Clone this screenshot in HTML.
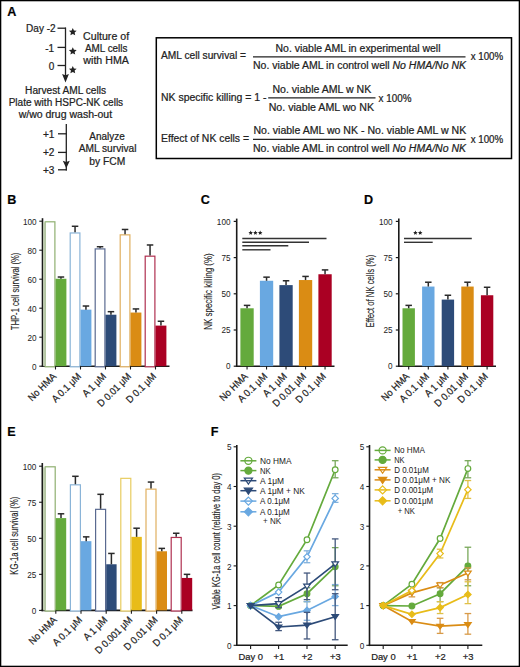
<!DOCTYPE html><html><head><meta charset="utf-8"><style>html,body{margin:0;padding:0;background:#fff;width:520px;height:667px;overflow:hidden;}svg{display:block;font-family:"Liberation Sans",sans-serif;}text{stroke:#222;stroke-width:0.22px;}text.l{stroke:none;}text.t{stroke-width:0.12px;}</style></head><body>
<svg width="520" height="667" viewBox="0 0 520 667">
<rect x="0.00" y="0.00" width="520.00" height="667.00" fill="#fff" stroke="none" stroke-width="1"/>
<rect x="0.60" y="0.60" width="518.80" height="665.80" fill="none" stroke="#000" stroke-width="1.4"/>
<text x="7.3" y="15.8" font-size="12.6" text-anchor="start" font-weight="bold" font-style="normal" fill="#000" >A</text>
<text x="55.6" y="31.8" font-size="10" text-anchor="end" font-weight="normal" font-style="normal" fill="#222" textLength="29.5" lengthAdjust="spacingAndGlyphs" >Day -2</text>
<text x="54.2" y="51.7" font-size="10" text-anchor="end" font-weight="normal" font-style="normal" fill="#222" >-1</text>
<text x="54.2" y="69.6" font-size="10" text-anchor="end" font-weight="normal" font-style="normal" fill="#222" >0</text>
<line x1="57.50" y1="28.20" x2="66.00" y2="28.20" stroke="#222" stroke-width="1.3" />
<line x1="57.50" y1="47.40" x2="66.00" y2="47.40" stroke="#222" stroke-width="1.3" />
<line x1="57.50" y1="65.50" x2="66.00" y2="65.50" stroke="#222" stroke-width="1.3" />
<line x1="65.50" y1="27.60" x2="65.50" y2="77.00" stroke="#222" stroke-width="1.3" />
<polygon points="62.1,74.0 65.5,75.2 68.9,74.0 65.5,82.6" fill="#222"/>
<polygon points="72.80,27.90 73.93,30.44 76.70,30.73 74.63,32.60 75.21,35.32 72.80,33.93 70.39,35.32 70.97,32.60 68.90,30.73 71.67,30.44" fill="#222"/>
<polygon points="72.80,47.20 73.93,49.74 76.70,50.03 74.63,51.90 75.21,54.62 72.80,53.23 70.39,54.62 70.97,51.90 68.90,50.03 71.67,49.74" fill="#222"/>
<polygon points="72.80,65.90 73.93,68.44 76.70,68.73 74.63,70.60 75.21,73.32 72.80,71.93 70.39,73.32 70.97,70.60 68.90,68.73 71.67,68.44" fill="#222"/>
<text x="106.1" y="39.9" font-size="10" text-anchor="middle" font-weight="normal" font-style="normal" fill="#222" textLength="46" lengthAdjust="spacingAndGlyphs" >Culture of</text>
<text x="106.2" y="52.2" font-size="10" text-anchor="middle" font-weight="normal" font-style="normal" fill="#222" textLength="42.5" lengthAdjust="spacingAndGlyphs" >AML cells</text>
<text x="106.1" y="64.0" font-size="10" text-anchor="middle" font-weight="normal" font-style="normal" fill="#222" textLength="45.5" lengthAdjust="spacingAndGlyphs" >with HMA</text>
<text x="65.6" y="93.8" font-size="10" text-anchor="middle" font-weight="normal" font-style="normal" fill="#222" textLength="81" lengthAdjust="spacingAndGlyphs" >Harvest AML cells</text>
<text x="65.9" y="105.8" font-size="10" text-anchor="middle" font-weight="normal" font-style="normal" fill="#222" textLength="114.5" lengthAdjust="spacingAndGlyphs" >Plate with HSPC-NK cells</text>
<text x="65.4" y="117.5" font-size="10" text-anchor="middle" font-weight="normal" font-style="normal" fill="#222" textLength="93.5" lengthAdjust="spacingAndGlyphs" >w/wo drug wash-out</text>
<line x1="66.30" y1="124.00" x2="66.30" y2="170.40" stroke="#222" stroke-width="1.3" />
<polygon points="62.8,160.8 66.3,161.9 69.8,160.8 66.3,168.2" fill="#222"/>
<text x="54.4" y="138.0" font-size="10" text-anchor="end" font-weight="normal" font-style="normal" fill="#222" textLength="11.5" lengthAdjust="spacingAndGlyphs" >+1</text>
<text x="54.4" y="156.3" font-size="10" text-anchor="end" font-weight="normal" font-style="normal" fill="#222" textLength="11.5" lengthAdjust="spacingAndGlyphs" >+2</text>
<text x="54.4" y="173.7" font-size="10" text-anchor="end" font-weight="normal" font-style="normal" fill="#222" textLength="11.5" lengthAdjust="spacingAndGlyphs" >+3</text>
<line x1="58.00" y1="133.80" x2="66.90" y2="133.80" stroke="#222" stroke-width="1.3" />
<line x1="58.00" y1="152.40" x2="66.90" y2="152.40" stroke="#222" stroke-width="1.3" />
<line x1="58.00" y1="169.80" x2="66.90" y2="169.80" stroke="#222" stroke-width="1.3" />
<text x="107.1" y="140.2" font-size="10" text-anchor="middle" font-weight="normal" font-style="normal" fill="#222" textLength="35.5" lengthAdjust="spacingAndGlyphs" >Analyze</text>
<text x="107.6" y="152.4" font-size="10" text-anchor="middle" font-weight="normal" font-style="normal" fill="#222" textLength="57.8" lengthAdjust="spacingAndGlyphs" >AML survival</text>
<text x="107.3" y="164.6" font-size="10" text-anchor="middle" font-weight="normal" font-style="normal" fill="#222" textLength="36" lengthAdjust="spacingAndGlyphs" >by FCM</text>
<rect x="156.30" y="37.80" width="355.20" height="120.70" fill="none" stroke="#000" stroke-width="1.5"/>
<text x="161" y="58.8" font-size="10" text-anchor="start" font-weight="normal" font-style="normal" fill="#222" textLength="85" lengthAdjust="spacingAndGlyphs" >AML cell survival =</text>
<line x1="253.00" y1="56.90" x2="465.50" y2="56.90" stroke="#222" stroke-width="1.3" />
<text x="275.5" y="51.5" font-size="10" text-anchor="start" font-weight="normal" font-style="normal" fill="#222" textLength="165" lengthAdjust="spacingAndGlyphs" >No. viable AML in experimental well</text>
<text x="253" y="69.0" font-size="10" fill="#222" textLength="213" lengthAdjust="spacingAndGlyphs">No. viable AML in control well <tspan font-style="italic">No HMA/No NK</tspan></text>
<text x="470.7" y="60.2" font-size="10" text-anchor="start" font-weight="normal" font-style="normal" fill="#222" textLength="32.5" lengthAdjust="spacingAndGlyphs" >x 100%</text>
<text x="161" y="101" font-size="10" text-anchor="start" font-weight="normal" font-style="normal" fill="#222" textLength="105.5" lengthAdjust="spacingAndGlyphs" >NK specific killing = 1 -</text>
<line x1="268.20" y1="97.90" x2="375.50" y2="97.90" stroke="#222" stroke-width="1.3" />
<text x="272.4" y="92.6" font-size="10" text-anchor="start" font-weight="normal" font-style="normal" fill="#222" textLength="98.8" lengthAdjust="spacingAndGlyphs" >No. viable AML w NK</text>
<text x="268.7" y="111.1" font-size="10" text-anchor="start" font-weight="normal" font-style="normal" fill="#222" textLength="105.3" lengthAdjust="spacingAndGlyphs" >No. viable AML wo NK</text>
<text x="378.6" y="101.6" font-size="10" text-anchor="start" font-weight="normal" font-style="normal" fill="#222" textLength="32.8" lengthAdjust="spacingAndGlyphs" >x 100%</text>
<text x="161" y="142" font-size="10" text-anchor="start" font-weight="normal" font-style="normal" fill="#222" textLength="88" lengthAdjust="spacingAndGlyphs" >Effect of NK cells =</text>
<line x1="253.00" y1="139.30" x2="465.50" y2="139.30" stroke="#222" stroke-width="1.3" />
<text x="253.4" y="134.0" font-size="10" text-anchor="start" font-weight="normal" font-style="normal" fill="#222" textLength="212.8" lengthAdjust="spacingAndGlyphs" >No. viable AML wo NK - No. viable AML w NK</text>
<text x="253" y="151.5" font-size="10" fill="#222" textLength="213" lengthAdjust="spacingAndGlyphs">No. viable AML in control well <tspan font-style="italic">No HMA/No NK</tspan></text>
<text x="470.7" y="142.9" font-size="10" text-anchor="start" font-weight="normal" font-style="normal" fill="#222" textLength="32.5" lengthAdjust="spacingAndGlyphs" >x 100%</text>
<text x="7.3" y="203.8" font-size="12.6" text-anchor="start" font-weight="bold" font-style="normal" fill="#000" >B</text>
<line x1="42.50" y1="218.20" x2="42.50" y2="367.00" stroke="#1a1a1a" stroke-width="1.6" />
<line x1="41.70" y1="366.20" x2="169.50" y2="366.20" stroke="#1a1a1a" stroke-width="1.6" />
<line x1="39.30" y1="366.20" x2="42.50" y2="366.20" stroke="#1a1a1a" stroke-width="1.1" />
<text x="36.6" y="369.8" font-size="9.4" text-anchor="end" font-weight="normal" font-style="normal" fill="#222" textLength="4.55" lengthAdjust="spacingAndGlyphs" class="l">0</text>
<line x1="39.30" y1="337.20" x2="42.50" y2="337.20" stroke="#1a1a1a" stroke-width="1.1" />
<text x="36.6" y="340.8" font-size="9.4" text-anchor="end" font-weight="normal" font-style="normal" fill="#222" textLength="9.1" lengthAdjust="spacingAndGlyphs" class="l">20</text>
<line x1="39.30" y1="308.20" x2="42.50" y2="308.20" stroke="#1a1a1a" stroke-width="1.1" />
<text x="36.6" y="311.8" font-size="9.4" text-anchor="end" font-weight="normal" font-style="normal" fill="#222" textLength="9.1" lengthAdjust="spacingAndGlyphs" class="l">40</text>
<line x1="39.30" y1="279.20" x2="42.50" y2="279.20" stroke="#1a1a1a" stroke-width="1.1" />
<text x="36.6" y="282.8" font-size="9.4" text-anchor="end" font-weight="normal" font-style="normal" fill="#222" textLength="9.1" lengthAdjust="spacingAndGlyphs" class="l">60</text>
<line x1="39.30" y1="250.20" x2="42.50" y2="250.20" stroke="#1a1a1a" stroke-width="1.1" />
<text x="36.6" y="253.79999999999998" font-size="9.4" text-anchor="end" font-weight="normal" font-style="normal" fill="#222" textLength="9.1" lengthAdjust="spacingAndGlyphs" class="l">80</text>
<line x1="39.30" y1="221.20" x2="42.50" y2="221.20" stroke="#1a1a1a" stroke-width="1.1" />
<text x="36.6" y="224.79999999999998" font-size="9.4" text-anchor="end" font-weight="normal" font-style="normal" fill="#222" textLength="13.65" lengthAdjust="spacingAndGlyphs" class="l">100</text>
<text class="t" transform="translate(18.50,291.40) rotate(-90)" x="0" y="0" font-size="10.6" text-anchor="middle" fill="#222" textLength="77.5" lengthAdjust="spacingAndGlyphs">THP-1 cell survival (%)</text>
<rect x="45.20" y="221.80" width="9.70" height="145.00" fill="#fff" stroke="#8fb070" stroke-width="1.2"/>
<rect x="43.20" y="222.40" width="2.50" height="143.80" fill="#b8c8a8" stroke="none" stroke-width="1"/>
<rect x="55.50" y="278.76" width="10.90" height="87.44" fill="#64aa3c" stroke="none" stroke-width="1"/>
<line x1="60.95" y1="278.76" x2="60.95" y2="277.02" stroke="#2a2a2a" stroke-width="1.5" />
<line x1="57.70" y1="277.02" x2="64.20" y2="277.02" stroke="#2a2a2a" stroke-width="1.5" />
<line x1="55.50" y1="366.20" x2="55.50" y2="369.50" stroke="#1a1a1a" stroke-width="1.1" />
<text transform="translate(56.80,377.00) rotate(-45)" x="0" y="0" font-size="10" text-anchor="end" fill="#222" textLength="35.14" lengthAdjust="spacingAndGlyphs">No HMA</text>
<rect x="70.20" y="232.97" width="9.70" height="133.83" fill="#fff" stroke="#8ab4d8" stroke-width="1.2"/>
<line x1="75.05" y1="232.37" x2="75.05" y2="226.28" stroke="#2a2a2a" stroke-width="1.5" />
<line x1="71.80" y1="226.28" x2="78.30" y2="226.28" stroke="#2a2a2a" stroke-width="1.5" />
<rect x="80.50" y="309.65" width="10.90" height="56.55" fill="#69a8e1" stroke="none" stroke-width="1"/>
<line x1="85.95" y1="309.65" x2="85.95" y2="306.02" stroke="#2a2a2a" stroke-width="1.5" />
<line x1="82.70" y1="306.02" x2="89.20" y2="306.02" stroke="#2a2a2a" stroke-width="1.5" />
<line x1="80.50" y1="366.20" x2="80.50" y2="369.50" stroke="#1a1a1a" stroke-width="1.1" />
<text transform="translate(81.80,377.00) rotate(-45)" x="0" y="0" font-size="10" text-anchor="end" fill="#222" textLength="36.89" lengthAdjust="spacingAndGlyphs">A 0.1 μM</text>
<rect x="95.20" y="248.91" width="9.70" height="117.88" fill="#fff" stroke="#5a6a90" stroke-width="1.2"/>
<line x1="100.05" y1="248.31" x2="100.05" y2="246.72" stroke="#2a2a2a" stroke-width="1.5" />
<line x1="96.80" y1="246.72" x2="103.30" y2="246.72" stroke="#2a2a2a" stroke-width="1.5" />
<rect x="105.50" y="314.72" width="10.90" height="51.48" fill="#2d4b78" stroke="none" stroke-width="1"/>
<line x1="110.95" y1="314.72" x2="110.95" y2="311.68" stroke="#2a2a2a" stroke-width="1.5" />
<line x1="107.70" y1="311.68" x2="114.20" y2="311.68" stroke="#2a2a2a" stroke-width="1.5" />
<line x1="105.50" y1="366.20" x2="105.50" y2="369.50" stroke="#1a1a1a" stroke-width="1.1" />
<text transform="translate(106.80,377.00) rotate(-45)" x="0" y="0" font-size="10" text-anchor="end" fill="#222" textLength="29.14" lengthAdjust="spacingAndGlyphs">A 1 μM</text>
<rect x="120.20" y="234.85" width="9.70" height="131.95" fill="#fff" stroke="#e0b060" stroke-width="1.2"/>
<line x1="125.05" y1="234.25" x2="125.05" y2="229.47" stroke="#2a2a2a" stroke-width="1.5" />
<line x1="121.80" y1="229.47" x2="128.30" y2="229.47" stroke="#2a2a2a" stroke-width="1.5" />
<rect x="130.50" y="312.55" width="10.90" height="53.65" fill="#da8c14" stroke="none" stroke-width="1"/>
<line x1="135.95" y1="312.55" x2="135.95" y2="308.93" stroke="#2a2a2a" stroke-width="1.5" />
<line x1="132.70" y1="308.93" x2="139.20" y2="308.93" stroke="#2a2a2a" stroke-width="1.5" />
<line x1="130.50" y1="366.20" x2="130.50" y2="369.50" stroke="#1a1a1a" stroke-width="1.1" />
<text transform="translate(131.80,377.00) rotate(-45)" x="0" y="0" font-size="10" text-anchor="end" fill="#222" textLength="43.09" lengthAdjust="spacingAndGlyphs">D 0.01 μM</text>
<rect x="145.20" y="256.17" width="9.70" height="110.63" fill="#fff" stroke="#b03050" stroke-width="1.2"/>
<line x1="150.05" y1="255.56" x2="150.05" y2="244.98" stroke="#2a2a2a" stroke-width="1.5" />
<line x1="146.80" y1="244.98" x2="153.30" y2="244.98" stroke="#2a2a2a" stroke-width="1.5" />
<rect x="155.50" y="325.60" width="10.90" height="40.60" fill="#aa0023" stroke="none" stroke-width="1"/>
<line x1="160.95" y1="325.60" x2="160.95" y2="321.25" stroke="#2a2a2a" stroke-width="1.5" />
<line x1="157.70" y1="321.25" x2="164.20" y2="321.25" stroke="#2a2a2a" stroke-width="1.5" />
<line x1="155.50" y1="366.20" x2="155.50" y2="369.50" stroke="#1a1a1a" stroke-width="1.1" />
<text transform="translate(156.80,377.00) rotate(-45)" x="0" y="0" font-size="10" text-anchor="end" fill="#222" textLength="37.92" lengthAdjust="spacingAndGlyphs">D 0.1 μM</text>
<text x="200.8" y="203.8" font-size="12.6" text-anchor="start" font-weight="bold" font-style="normal" fill="#000" >C</text>
<line x1="236.70" y1="218.60" x2="236.70" y2="367.00" stroke="#1a1a1a" stroke-width="1.6" />
<line x1="235.90" y1="366.20" x2="334.50" y2="366.20" stroke="#1a1a1a" stroke-width="1.6" />
<line x1="233.70" y1="366.20" x2="236.70" y2="366.20" stroke="#1a1a1a" stroke-width="1.2" />
<text x="230.5" y="369.4" font-size="9.4" text-anchor="end" font-weight="normal" font-style="normal" fill="#222" textLength="4.55" lengthAdjust="spacingAndGlyphs" class="l">0</text>
<line x1="233.70" y1="330.00" x2="236.70" y2="330.00" stroke="#1a1a1a" stroke-width="1.2" />
<text x="230.5" y="333.2" font-size="9.4" text-anchor="end" font-weight="normal" font-style="normal" fill="#222" textLength="9.1" lengthAdjust="spacingAndGlyphs" class="l">25</text>
<line x1="233.70" y1="293.80" x2="236.70" y2="293.80" stroke="#1a1a1a" stroke-width="1.2" />
<text x="230.5" y="297.0" font-size="9.4" text-anchor="end" font-weight="normal" font-style="normal" fill="#222" textLength="9.1" lengthAdjust="spacingAndGlyphs" class="l">50</text>
<line x1="233.70" y1="257.60" x2="236.70" y2="257.60" stroke="#1a1a1a" stroke-width="1.2" />
<text x="230.5" y="260.8" font-size="9.4" text-anchor="end" font-weight="normal" font-style="normal" fill="#222" textLength="9.1" lengthAdjust="spacingAndGlyphs" class="l">75</text>
<line x1="233.70" y1="221.40" x2="236.70" y2="221.40" stroke="#1a1a1a" stroke-width="1.2" />
<text x="230.5" y="224.6" font-size="9.4" text-anchor="end" font-weight="normal" font-style="normal" fill="#222" textLength="13.65" lengthAdjust="spacingAndGlyphs" class="l">100</text>
<text class="t" transform="translate(211.70,291.50) rotate(-90)" x="0" y="0" font-size="10.6" text-anchor="middle" fill="#222" textLength="76.5" lengthAdjust="spacingAndGlyphs">NK specific killing (%)</text>
<rect x="240.40" y="308.28" width="13.30" height="57.92" fill="#64aa3c" stroke="none" stroke-width="1"/>
<line x1="247.05" y1="308.28" x2="247.05" y2="305.38" stroke="#2a2a2a" stroke-width="1.5" />
<line x1="243.80" y1="305.38" x2="250.30" y2="305.38" stroke="#2a2a2a" stroke-width="1.5" />
<line x1="247.05" y1="366.20" x2="247.05" y2="369.50" stroke="#1a1a1a" stroke-width="1.1" />
<text transform="translate(248.35,377.00) rotate(-45)" x="0" y="0" font-size="10" text-anchor="end" fill="#222" textLength="35.14" lengthAdjust="spacingAndGlyphs">No HMA</text>
<rect x="259.90" y="280.77" width="13.30" height="85.43" fill="#69a8e1" stroke="none" stroke-width="1"/>
<line x1="266.55" y1="280.77" x2="266.55" y2="277.15" stroke="#2a2a2a" stroke-width="1.5" />
<line x1="263.30" y1="277.15" x2="269.80" y2="277.15" stroke="#2a2a2a" stroke-width="1.5" />
<line x1="266.55" y1="366.20" x2="266.55" y2="369.50" stroke="#1a1a1a" stroke-width="1.1" />
<text transform="translate(267.85,377.00) rotate(-45)" x="0" y="0" font-size="10" text-anchor="end" fill="#222" textLength="36.89" lengthAdjust="spacingAndGlyphs">A 0.1 μM</text>
<rect x="279.40" y="285.11" width="13.30" height="81.09" fill="#2d4b78" stroke="none" stroke-width="1"/>
<line x1="286.05" y1="285.11" x2="286.05" y2="280.77" stroke="#2a2a2a" stroke-width="1.5" />
<line x1="282.80" y1="280.77" x2="289.30" y2="280.77" stroke="#2a2a2a" stroke-width="1.5" />
<line x1="286.05" y1="366.20" x2="286.05" y2="369.50" stroke="#1a1a1a" stroke-width="1.1" />
<text transform="translate(287.35,377.00) rotate(-45)" x="0" y="0" font-size="10" text-anchor="end" fill="#222" textLength="29.14" lengthAdjust="spacingAndGlyphs">A 1 μM</text>
<rect x="298.90" y="280.04" width="13.30" height="86.16" fill="#da8c14" stroke="none" stroke-width="1"/>
<line x1="305.55" y1="280.04" x2="305.55" y2="276.42" stroke="#2a2a2a" stroke-width="1.5" />
<line x1="302.30" y1="276.42" x2="308.80" y2="276.42" stroke="#2a2a2a" stroke-width="1.5" />
<line x1="305.55" y1="366.20" x2="305.55" y2="369.50" stroke="#1a1a1a" stroke-width="1.1" />
<text transform="translate(306.85,377.00) rotate(-45)" x="0" y="0" font-size="10" text-anchor="end" fill="#222" textLength="43.09" lengthAdjust="spacingAndGlyphs">D 0.01 μM</text>
<rect x="318.40" y="274.25" width="13.30" height="91.95" fill="#aa0023" stroke="none" stroke-width="1"/>
<line x1="325.05" y1="274.25" x2="325.05" y2="269.91" stroke="#2a2a2a" stroke-width="1.5" />
<line x1="321.80" y1="269.91" x2="328.30" y2="269.91" stroke="#2a2a2a" stroke-width="1.5" />
<line x1="325.05" y1="366.20" x2="325.05" y2="369.50" stroke="#1a1a1a" stroke-width="1.1" />
<text transform="translate(326.35,377.00) rotate(-45)" x="0" y="0" font-size="10" text-anchor="end" fill="#222" textLength="37.92" lengthAdjust="spacingAndGlyphs">D 0.1 μM</text>
<line x1="242.30" y1="238.50" x2="326.50" y2="238.50" stroke="#333" stroke-width="1.4" />
<line x1="242.30" y1="242.30" x2="309.00" y2="242.30" stroke="#333" stroke-width="1.4" />
<line x1="242.30" y1="245.80" x2="288.30" y2="245.80" stroke="#333" stroke-width="1.4" />
<line x1="242.30" y1="249.80" x2="270.50" y2="249.80" stroke="#333" stroke-width="1.4" />
<polygon points="250.70,230.50 251.36,231.99 252.98,232.16 251.77,233.25 252.11,234.84 250.70,234.03 249.29,234.84 249.63,233.25 248.42,232.16 250.04,231.99" fill="#222"/>
<polygon points="255.40,230.50 256.06,231.99 257.68,232.16 256.47,233.25 256.81,234.84 255.40,234.03 253.99,234.84 254.33,233.25 253.12,232.16 254.74,231.99" fill="#222"/>
<polygon points="260.20,230.50 260.86,231.99 262.48,232.16 261.27,233.25 261.61,234.84 260.20,234.03 258.79,234.84 259.13,233.25 257.92,232.16 259.54,231.99" fill="#222"/>
<text x="364.0" y="203.8" font-size="12.6" text-anchor="start" font-weight="bold" font-style="normal" fill="#000" >D</text>
<line x1="398.80" y1="218.60" x2="398.80" y2="367.00" stroke="#1a1a1a" stroke-width="1.6" />
<line x1="398.00" y1="366.20" x2="496.00" y2="366.20" stroke="#1a1a1a" stroke-width="1.6" />
<line x1="395.80" y1="366.20" x2="398.80" y2="366.20" stroke="#1a1a1a" stroke-width="1.2" />
<text x="392.6" y="369.4" font-size="9.4" text-anchor="end" font-weight="normal" font-style="normal" fill="#222" textLength="4.55" lengthAdjust="spacingAndGlyphs" class="l">0</text>
<line x1="395.80" y1="330.00" x2="398.80" y2="330.00" stroke="#1a1a1a" stroke-width="1.2" />
<text x="392.6" y="333.2" font-size="9.4" text-anchor="end" font-weight="normal" font-style="normal" fill="#222" textLength="9.1" lengthAdjust="spacingAndGlyphs" class="l">25</text>
<line x1="395.80" y1="293.80" x2="398.80" y2="293.80" stroke="#1a1a1a" stroke-width="1.2" />
<text x="392.6" y="297.0" font-size="9.4" text-anchor="end" font-weight="normal" font-style="normal" fill="#222" textLength="9.1" lengthAdjust="spacingAndGlyphs" class="l">50</text>
<line x1="395.80" y1="257.60" x2="398.80" y2="257.60" stroke="#1a1a1a" stroke-width="1.2" />
<text x="392.6" y="260.8" font-size="9.4" text-anchor="end" font-weight="normal" font-style="normal" fill="#222" textLength="9.1" lengthAdjust="spacingAndGlyphs" class="l">75</text>
<line x1="395.80" y1="221.40" x2="398.80" y2="221.40" stroke="#1a1a1a" stroke-width="1.2" />
<text x="392.6" y="224.6" font-size="9.4" text-anchor="end" font-weight="normal" font-style="normal" fill="#222" textLength="13.65" lengthAdjust="spacingAndGlyphs" class="l">100</text>
<text class="t" transform="translate(374.20,291.10) rotate(-90)" x="0" y="0" font-size="10.6" text-anchor="middle" fill="#222" textLength="72.8" lengthAdjust="spacingAndGlyphs">Effect of NK cells (%)</text>
<rect x="402.50" y="308.28" width="12.40" height="57.92" fill="#64aa3c" stroke="none" stroke-width="1"/>
<line x1="408.70" y1="308.28" x2="408.70" y2="305.38" stroke="#2a2a2a" stroke-width="1.5" />
<line x1="405.45" y1="305.38" x2="411.95" y2="305.38" stroke="#2a2a2a" stroke-width="1.5" />
<line x1="408.70" y1="366.20" x2="408.70" y2="369.50" stroke="#1a1a1a" stroke-width="1.1" />
<text transform="translate(410.00,377.00) rotate(-45)" x="0" y="0" font-size="10" text-anchor="end" fill="#222" textLength="35.14" lengthAdjust="spacingAndGlyphs">No HMA</text>
<rect x="422.10" y="286.56" width="12.40" height="79.64" fill="#69a8e1" stroke="none" stroke-width="1"/>
<line x1="428.30" y1="286.56" x2="428.30" y2="282.22" stroke="#2a2a2a" stroke-width="1.5" />
<line x1="425.05" y1="282.22" x2="431.55" y2="282.22" stroke="#2a2a2a" stroke-width="1.5" />
<line x1="428.30" y1="366.20" x2="428.30" y2="369.50" stroke="#1a1a1a" stroke-width="1.1" />
<text transform="translate(429.60,377.00) rotate(-45)" x="0" y="0" font-size="10" text-anchor="end" fill="#222" textLength="36.89" lengthAdjust="spacingAndGlyphs">A 0.1 μM</text>
<rect x="441.70" y="299.59" width="12.40" height="66.61" fill="#2d4b78" stroke="none" stroke-width="1"/>
<line x1="447.90" y1="299.59" x2="447.90" y2="295.25" stroke="#2a2a2a" stroke-width="1.5" />
<line x1="444.65" y1="295.25" x2="451.15" y2="295.25" stroke="#2a2a2a" stroke-width="1.5" />
<line x1="447.90" y1="366.20" x2="447.90" y2="369.50" stroke="#1a1a1a" stroke-width="1.1" />
<text transform="translate(449.20,377.00) rotate(-45)" x="0" y="0" font-size="10" text-anchor="end" fill="#222" textLength="29.14" lengthAdjust="spacingAndGlyphs">A 1 μM</text>
<rect x="461.30" y="286.56" width="12.40" height="79.64" fill="#da8c14" stroke="none" stroke-width="1"/>
<line x1="467.50" y1="286.56" x2="467.50" y2="282.22" stroke="#2a2a2a" stroke-width="1.5" />
<line x1="464.25" y1="282.22" x2="470.75" y2="282.22" stroke="#2a2a2a" stroke-width="1.5" />
<line x1="467.50" y1="366.20" x2="467.50" y2="369.50" stroke="#1a1a1a" stroke-width="1.1" />
<text transform="translate(468.80,377.00) rotate(-45)" x="0" y="0" font-size="10" text-anchor="end" fill="#222" textLength="43.09" lengthAdjust="spacingAndGlyphs">D 0.01 μM</text>
<rect x="480.90" y="295.25" width="12.40" height="70.95" fill="#aa0023" stroke="none" stroke-width="1"/>
<line x1="487.10" y1="295.25" x2="487.10" y2="287.28" stroke="#2a2a2a" stroke-width="1.5" />
<line x1="483.85" y1="287.28" x2="490.35" y2="287.28" stroke="#2a2a2a" stroke-width="1.5" />
<line x1="487.10" y1="366.20" x2="487.10" y2="369.50" stroke="#1a1a1a" stroke-width="1.1" />
<text transform="translate(488.40,377.00) rotate(-45)" x="0" y="0" font-size="10" text-anchor="end" fill="#222" textLength="37.92" lengthAdjust="spacingAndGlyphs">D 0.1 μM</text>
<line x1="404.00" y1="238.50" x2="471.80" y2="238.50" stroke="#333" stroke-width="1.4" />
<line x1="404.00" y1="242.30" x2="432.70" y2="242.30" stroke="#333" stroke-width="1.4" />
<polygon points="415.40,230.50 416.06,231.99 417.68,232.16 416.47,233.25 416.81,234.84 415.40,234.03 413.99,234.84 414.33,233.25 413.12,232.16 414.74,231.99" fill="#222"/>
<polygon points="420.20,230.50 420.86,231.99 422.48,232.16 421.27,233.25 421.61,234.84 420.20,234.03 418.79,234.84 419.13,233.25 417.92,232.16 419.54,231.99" fill="#222"/>
<text x="7.3" y="436" font-size="12.6" text-anchor="start" font-weight="bold" font-style="normal" fill="#000" >E</text>
<line x1="42.30" y1="463.00" x2="42.30" y2="611.20" stroke="#1a1a1a" stroke-width="1.6" />
<line x1="41.50" y1="610.40" x2="192.50" y2="610.40" stroke="#1a1a1a" stroke-width="1.6" />
<line x1="39.10" y1="610.40" x2="42.30" y2="610.40" stroke="#1a1a1a" stroke-width="1.1" />
<text x="36.4" y="614.0" font-size="9.4" text-anchor="end" font-weight="normal" font-style="normal" fill="#222" textLength="4.55" lengthAdjust="spacingAndGlyphs" class="l">0</text>
<line x1="39.10" y1="574.35" x2="42.30" y2="574.35" stroke="#1a1a1a" stroke-width="1.1" />
<text x="36.4" y="577.95" font-size="9.4" text-anchor="end" font-weight="normal" font-style="normal" fill="#222" textLength="9.1" lengthAdjust="spacingAndGlyphs" class="l">25</text>
<line x1="39.10" y1="538.30" x2="42.30" y2="538.30" stroke="#1a1a1a" stroke-width="1.1" />
<text x="36.4" y="541.9" font-size="9.4" text-anchor="end" font-weight="normal" font-style="normal" fill="#222" textLength="9.1" lengthAdjust="spacingAndGlyphs" class="l">50</text>
<line x1="39.10" y1="502.25" x2="42.30" y2="502.25" stroke="#1a1a1a" stroke-width="1.1" />
<text x="36.4" y="505.85" font-size="9.4" text-anchor="end" font-weight="normal" font-style="normal" fill="#222" textLength="9.1" lengthAdjust="spacingAndGlyphs" class="l">75</text>
<line x1="39.10" y1="466.20" x2="42.30" y2="466.20" stroke="#1a1a1a" stroke-width="1.1" />
<text x="36.4" y="469.8" font-size="9.4" text-anchor="end" font-weight="normal" font-style="normal" fill="#222" textLength="13.65" lengthAdjust="spacingAndGlyphs" class="l">100</text>
<text class="t" transform="translate(18.20,535.70) rotate(-90)" x="0" y="0" font-size="10.6" text-anchor="middle" fill="#222" textLength="78" lengthAdjust="spacingAndGlyphs">KG-1a cell survival (%)</text>
<rect x="45.20" y="466.80" width="10.00" height="144.20" fill="#fff" stroke="#8fb070" stroke-width="1.2"/>
<rect x="43.10" y="467.40" width="2.60" height="143.00" fill="#b8c8a8" stroke="none" stroke-width="1"/>
<rect x="55.80" y="518.11" width="10.40" height="92.29" fill="#64aa3c" stroke="none" stroke-width="1"/>
<line x1="61.00" y1="518.11" x2="61.00" y2="513.79" stroke="#2a2a2a" stroke-width="1.5" />
<line x1="57.75" y1="513.79" x2="64.25" y2="513.79" stroke="#2a2a2a" stroke-width="1.5" />
<line x1="55.80" y1="610.40" x2="55.80" y2="613.70" stroke="#1a1a1a" stroke-width="1.1" />
<text transform="translate(57.50,620.50) rotate(-45)" x="0" y="0" font-size="10" text-anchor="end" fill="#222" textLength="35.14" lengthAdjust="spacingAndGlyphs">No HMA</text>
<rect x="70.40" y="484.82" width="10.00" height="126.18" fill="#fff" stroke="#8ab4d8" stroke-width="1.2"/>
<line x1="75.40" y1="484.22" x2="75.40" y2="476.29" stroke="#2a2a2a" stroke-width="1.5" />
<line x1="72.15" y1="476.29" x2="78.65" y2="476.29" stroke="#2a2a2a" stroke-width="1.5" />
<rect x="81.00" y="541.18" width="10.40" height="69.22" fill="#69a8e1" stroke="none" stroke-width="1"/>
<line x1="86.20" y1="541.18" x2="86.20" y2="536.86" stroke="#2a2a2a" stroke-width="1.5" />
<line x1="82.95" y1="536.86" x2="89.45" y2="536.86" stroke="#2a2a2a" stroke-width="1.5" />
<line x1="81.00" y1="610.40" x2="81.00" y2="613.70" stroke="#1a1a1a" stroke-width="1.1" />
<text transform="translate(82.70,620.50) rotate(-45)" x="0" y="0" font-size="10" text-anchor="end" fill="#222" textLength="36.89" lengthAdjust="spacingAndGlyphs">A 0.1 μM</text>
<rect x="95.60" y="509.34" width="10.00" height="101.66" fill="#fff" stroke="#5a6a90" stroke-width="1.2"/>
<line x1="100.60" y1="508.74" x2="100.60" y2="494.32" stroke="#2a2a2a" stroke-width="1.5" />
<line x1="97.35" y1="494.32" x2="103.85" y2="494.32" stroke="#2a2a2a" stroke-width="1.5" />
<rect x="106.20" y="564.26" width="10.40" height="46.14" fill="#2d4b78" stroke="none" stroke-width="1"/>
<line x1="111.40" y1="564.26" x2="111.40" y2="553.44" stroke="#2a2a2a" stroke-width="1.5" />
<line x1="108.15" y1="553.44" x2="114.65" y2="553.44" stroke="#2a2a2a" stroke-width="1.5" />
<line x1="106.20" y1="610.40" x2="106.20" y2="613.70" stroke="#1a1a1a" stroke-width="1.1" />
<text transform="translate(107.90,620.50) rotate(-45)" x="0" y="0" font-size="10" text-anchor="end" fill="#222" textLength="29.14" lengthAdjust="spacingAndGlyphs">A 1 μM</text>
<rect x="120.80" y="478.34" width="10.00" height="132.66" fill="#fff" stroke="#e8cc60" stroke-width="1.2"/>
<rect x="131.40" y="536.86" width="10.40" height="73.54" fill="#e8bc19" stroke="none" stroke-width="1"/>
<line x1="136.60" y1="536.86" x2="136.60" y2="528.21" stroke="#2a2a2a" stroke-width="1.5" />
<line x1="133.35" y1="528.21" x2="139.85" y2="528.21" stroke="#2a2a2a" stroke-width="1.5" />
<line x1="131.40" y1="610.40" x2="131.40" y2="613.70" stroke="#1a1a1a" stroke-width="1.1" />
<text transform="translate(133.10,620.50) rotate(-45)" x="0" y="0" font-size="10" text-anchor="end" fill="#222" textLength="48.26" lengthAdjust="spacingAndGlyphs">D 0.001 μM</text>
<rect x="146.00" y="489.15" width="10.00" height="121.85" fill="#fff" stroke="#e0b060" stroke-width="1.2"/>
<line x1="151.00" y1="488.55" x2="151.00" y2="482.06" stroke="#2a2a2a" stroke-width="1.5" />
<line x1="147.75" y1="482.06" x2="154.25" y2="482.06" stroke="#2a2a2a" stroke-width="1.5" />
<rect x="156.60" y="551.28" width="10.40" height="59.12" fill="#da8c14" stroke="none" stroke-width="1"/>
<line x1="161.80" y1="551.28" x2="161.80" y2="548.39" stroke="#2a2a2a" stroke-width="1.5" />
<line x1="158.55" y1="548.39" x2="165.05" y2="548.39" stroke="#2a2a2a" stroke-width="1.5" />
<line x1="156.60" y1="610.40" x2="156.60" y2="613.70" stroke="#1a1a1a" stroke-width="1.1" />
<text transform="translate(158.30,620.50) rotate(-45)" x="0" y="0" font-size="10" text-anchor="end" fill="#222" textLength="43.09" lengthAdjust="spacingAndGlyphs">D 0.01 μM</text>
<rect x="171.20" y="537.46" width="10.00" height="73.54" fill="#fff" stroke="#b03050" stroke-width="1.2"/>
<line x1="176.20" y1="536.86" x2="176.20" y2="533.25" stroke="#2a2a2a" stroke-width="1.5" />
<line x1="172.95" y1="533.25" x2="179.45" y2="533.25" stroke="#2a2a2a" stroke-width="1.5" />
<rect x="181.80" y="577.95" width="10.40" height="32.45" fill="#aa0023" stroke="none" stroke-width="1"/>
<line x1="187.00" y1="577.95" x2="187.00" y2="574.35" stroke="#2a2a2a" stroke-width="1.5" />
<line x1="183.75" y1="574.35" x2="190.25" y2="574.35" stroke="#2a2a2a" stroke-width="1.5" />
<line x1="181.80" y1="610.40" x2="181.80" y2="613.70" stroke="#1a1a1a" stroke-width="1.1" />
<text transform="translate(183.50,620.50) rotate(-45)" x="0" y="0" font-size="10" text-anchor="end" fill="#222" textLength="37.92" lengthAdjust="spacingAndGlyphs">D 0.1 μM</text>
<text x="210.8" y="436" font-size="12.6" text-anchor="start" font-weight="bold" font-style="normal" fill="#000" >F</text>
<line x1="236.80" y1="445.00" x2="236.80" y2="646.10" stroke="#1a1a1a" stroke-width="1.6" />
<line x1="236.00" y1="645.30" x2="347.70" y2="645.30" stroke="#1a1a1a" stroke-width="1.6" />
<line x1="233.60" y1="645.30" x2="236.80" y2="645.30" stroke="#1a1a1a" stroke-width="1.1" />
<text x="231.5" y="648.9" font-size="9.4" text-anchor="end" font-weight="normal" font-style="normal" fill="#222" textLength="4.55" lengthAdjust="spacingAndGlyphs" class="l">0</text>
<line x1="233.60" y1="605.60" x2="236.80" y2="605.60" stroke="#1a1a1a" stroke-width="1.1" />
<text x="231.5" y="609.1999999999999" font-size="9.4" text-anchor="end" font-weight="normal" font-style="normal" fill="#222" textLength="4.55" lengthAdjust="spacingAndGlyphs" class="l">1</text>
<line x1="233.60" y1="565.90" x2="236.80" y2="565.90" stroke="#1a1a1a" stroke-width="1.1" />
<text x="231.5" y="569.5" font-size="9.4" text-anchor="end" font-weight="normal" font-style="normal" fill="#222" textLength="4.55" lengthAdjust="spacingAndGlyphs" class="l">2</text>
<line x1="233.60" y1="526.20" x2="236.80" y2="526.20" stroke="#1a1a1a" stroke-width="1.1" />
<text x="231.5" y="529.8" font-size="9.4" text-anchor="end" font-weight="normal" font-style="normal" fill="#222" textLength="4.55" lengthAdjust="spacingAndGlyphs" class="l">3</text>
<line x1="233.60" y1="486.50" x2="236.80" y2="486.50" stroke="#1a1a1a" stroke-width="1.1" />
<text x="231.5" y="490.09999999999997" font-size="9.4" text-anchor="end" font-weight="normal" font-style="normal" fill="#222" textLength="4.55" lengthAdjust="spacingAndGlyphs" class="l">4</text>
<line x1="233.60" y1="446.80" x2="236.80" y2="446.80" stroke="#1a1a1a" stroke-width="1.1" />
<text x="231.5" y="450.4" font-size="9.4" text-anchor="end" font-weight="normal" font-style="normal" fill="#222" textLength="4.55" lengthAdjust="spacingAndGlyphs" class="l">5</text>
<line x1="250.60" y1="645.30" x2="250.60" y2="649.00" stroke="#1a1a1a" stroke-width="1.1" />
<text x="250.79999999999998" y="660" font-size="9.4" text-anchor="middle" font-weight="normal" font-style="normal" fill="#222" >Day 0</text>
<line x1="278.60" y1="645.30" x2="278.60" y2="649.00" stroke="#1a1a1a" stroke-width="1.1" />
<text x="278.8" y="660" font-size="9.4" text-anchor="middle" font-weight="normal" font-style="normal" fill="#222" >+1</text>
<line x1="307.00" y1="645.30" x2="307.00" y2="649.00" stroke="#1a1a1a" stroke-width="1.1" />
<text x="307.2" y="660" font-size="9.4" text-anchor="middle" font-weight="normal" font-style="normal" fill="#222" >+2</text>
<line x1="335.20" y1="645.30" x2="335.20" y2="649.00" stroke="#1a1a1a" stroke-width="1.1" />
<text x="335.4" y="660" font-size="9.4" text-anchor="middle" font-weight="normal" font-style="normal" fill="#222" >+3</text>
<text class="t" transform="translate(219.90,541.30) rotate(-90)" x="0" y="0" font-size="10.6" text-anchor="middle" fill="#222" textLength="136.5" lengthAdjust="spacingAndGlyphs">Viable KG-1a cell count (relative to day 0)</text>
<polyline points="250.6,605.6 278.6,585.0 307.0,539.7 335.2,469.8" fill="none" stroke="#64aa3c" stroke-width="1.7"/>
<line x1="335.20" y1="477.77" x2="335.20" y2="460.69" stroke="#78a85a" stroke-width="1.3" />
<line x1="331.90" y1="477.77" x2="338.50" y2="477.77" stroke="#78a85a" stroke-width="1.3" />
<line x1="331.90" y1="460.69" x2="338.50" y2="460.69" stroke="#78a85a" stroke-width="1.3" />
<circle cx="250.6" cy="605.6" r="2.85" fill="#fff" stroke="#64aa3c" stroke-width="1.2"/>
<circle cx="278.6" cy="585.0" r="2.85" fill="#fff" stroke="#64aa3c" stroke-width="1.2"/>
<circle cx="307.0" cy="539.7" r="2.85" fill="#fff" stroke="#64aa3c" stroke-width="1.2"/>
<circle cx="335.2" cy="469.8" r="2.85" fill="#fff" stroke="#64aa3c" stroke-width="1.2"/>
<polyline points="250.6,605.6 278.6,606.4 307.0,593.7 335.2,566.7" fill="none" stroke="#64aa3c" stroke-width="1.7"/>
<line x1="307.00" y1="601.63" x2="307.00" y2="587.73" stroke="#78a85a" stroke-width="1.3" />
<line x1="303.70" y1="601.63" x2="310.30" y2="601.63" stroke="#78a85a" stroke-width="1.3" />
<line x1="303.70" y1="587.73" x2="310.30" y2="587.73" stroke="#78a85a" stroke-width="1.3" />
<line x1="335.20" y1="585.75" x2="335.20" y2="547.64" stroke="#78a85a" stroke-width="1.3" />
<line x1="331.90" y1="585.75" x2="338.50" y2="585.75" stroke="#78a85a" stroke-width="1.3" />
<line x1="331.90" y1="547.64" x2="338.50" y2="547.64" stroke="#78a85a" stroke-width="1.3" />
<circle cx="250.6" cy="605.6" r="2.85" fill="#64aa3c" stroke="#64aa3c" stroke-width="1.2"/>
<circle cx="278.6" cy="606.4" r="2.85" fill="#64aa3c" stroke="#64aa3c" stroke-width="1.2"/>
<circle cx="307.0" cy="593.7" r="2.85" fill="#64aa3c" stroke="#64aa3c" stroke-width="1.2"/>
<circle cx="335.2" cy="566.7" r="2.85" fill="#64aa3c" stroke="#64aa3c" stroke-width="1.2"/>
<polyline points="250.6,605.6 278.6,592.1 307.0,556.8 335.2,498.4" fill="none" stroke="#69a8e1" stroke-width="1.7"/>
<line x1="307.00" y1="562.72" x2="307.00" y2="550.81" stroke="#80b0dc" stroke-width="1.3" />
<line x1="303.70" y1="562.72" x2="310.30" y2="562.72" stroke="#80b0dc" stroke-width="1.3" />
<line x1="303.70" y1="550.81" x2="310.30" y2="550.81" stroke="#80b0dc" stroke-width="1.3" />
<line x1="335.20" y1="502.38" x2="335.20" y2="493.65" stroke="#80b0dc" stroke-width="1.3" />
<line x1="331.90" y1="502.38" x2="338.50" y2="502.38" stroke="#80b0dc" stroke-width="1.3" />
<line x1="331.90" y1="493.65" x2="338.50" y2="493.65" stroke="#80b0dc" stroke-width="1.3" />
<polygon points="250.6,602.4 253.8,605.6 250.6,608.8 247.4,605.6" fill="#fff" stroke="#69a8e1" stroke-width="1.2"/>
<polygon points="278.6,588.9 281.8,592.1 278.6,595.3 275.4,592.1" fill="#fff" stroke="#69a8e1" stroke-width="1.2"/>
<polygon points="307.0,553.6 310.2,556.8 307.0,560.0 303.8,556.8" fill="#fff" stroke="#69a8e1" stroke-width="1.2"/>
<polygon points="335.2,495.2 338.4,498.4 335.2,501.6 332.0,498.4" fill="#fff" stroke="#69a8e1" stroke-width="1.2"/>
<polyline points="250.6,605.6 278.6,616.7 307.0,610.4 335.2,596.5" fill="none" stroke="#69a8e1" stroke-width="1.7"/>
<line x1="307.00" y1="620.29" x2="307.00" y2="601.63" stroke="#80b0dc" stroke-width="1.3" />
<line x1="303.70" y1="620.29" x2="310.30" y2="620.29" stroke="#80b0dc" stroke-width="1.3" />
<line x1="303.70" y1="601.63" x2="310.30" y2="601.63" stroke="#80b0dc" stroke-width="1.3" />
<line x1="335.20" y1="605.60" x2="335.20" y2="584.56" stroke="#80b0dc" stroke-width="1.3" />
<line x1="331.90" y1="605.60" x2="338.50" y2="605.60" stroke="#80b0dc" stroke-width="1.3" />
<line x1="331.90" y1="584.56" x2="338.50" y2="584.56" stroke="#80b0dc" stroke-width="1.3" />
<polygon points="250.6,602.4 253.8,605.6 250.6,608.8 247.4,605.6" fill="#69a8e1" stroke="#69a8e1" stroke-width="1.2"/>
<polygon points="278.6,613.5 281.8,616.7 278.6,619.9 275.4,616.7" fill="#69a8e1" stroke="#69a8e1" stroke-width="1.2"/>
<polygon points="307.0,607.2 310.2,610.4 307.0,613.6 303.8,610.4" fill="#69a8e1" stroke="#69a8e1" stroke-width="1.2"/>
<polygon points="335.2,593.3 338.4,596.5 335.2,599.7 332.0,596.5" fill="#69a8e1" stroke="#69a8e1" stroke-width="1.2"/>
<polyline points="250.6,605.6 278.6,603.6 307.0,586.1 335.2,563.9" fill="none" stroke="#2d4b78" stroke-width="1.7"/>
<line x1="278.60" y1="607.58" x2="278.60" y2="597.66" stroke="#44587e" stroke-width="1.3" />
<line x1="275.30" y1="607.58" x2="281.90" y2="607.58" stroke="#44587e" stroke-width="1.3" />
<line x1="275.30" y1="597.66" x2="281.90" y2="597.66" stroke="#44587e" stroke-width="1.3" />
<line x1="307.00" y1="599.64" x2="307.00" y2="573.05" stroke="#44587e" stroke-width="1.3" />
<line x1="303.70" y1="599.64" x2="310.30" y2="599.64" stroke="#44587e" stroke-width="1.3" />
<line x1="303.70" y1="573.05" x2="310.30" y2="573.05" stroke="#44587e" stroke-width="1.3" />
<line x1="335.20" y1="589.72" x2="335.20" y2="538.90" stroke="#44587e" stroke-width="1.3" />
<line x1="331.90" y1="589.72" x2="338.50" y2="589.72" stroke="#44587e" stroke-width="1.3" />
<line x1="331.90" y1="538.90" x2="338.50" y2="538.90" stroke="#44587e" stroke-width="1.3" />
<polygon points="247.3,603.6 253.9,603.6 250.6,608.4" fill="#fff" stroke="#2d4b78" stroke-width="1.2"/>
<polygon points="275.3,601.6 281.9,601.6 278.6,606.4" fill="#fff" stroke="#2d4b78" stroke-width="1.2"/>
<polygon points="303.7,584.2 310.3,584.2 307.0,589.0" fill="#fff" stroke="#2d4b78" stroke-width="1.2"/>
<polygon points="331.9,561.9 338.5,561.9 335.2,566.7" fill="#fff" stroke="#2d4b78" stroke-width="1.2"/>
<polyline points="250.6,605.6 278.6,627.0 307.0,625.1 335.2,616.7" fill="none" stroke="#2d4b78" stroke-width="1.7"/>
<line x1="278.60" y1="630.61" x2="278.60" y2="622.27" stroke="#44587e" stroke-width="1.3" />
<line x1="275.30" y1="630.61" x2="281.90" y2="630.61" stroke="#44587e" stroke-width="1.3" />
<line x1="275.30" y1="622.27" x2="281.90" y2="622.27" stroke="#44587e" stroke-width="1.3" />
<line x1="307.00" y1="638.95" x2="307.00" y2="612.35" stroke="#44587e" stroke-width="1.3" />
<line x1="303.70" y1="638.95" x2="310.30" y2="638.95" stroke="#44587e" stroke-width="1.3" />
<line x1="303.70" y1="612.35" x2="310.30" y2="612.35" stroke="#44587e" stroke-width="1.3" />
<line x1="335.20" y1="639.74" x2="335.20" y2="593.69" stroke="#44587e" stroke-width="1.3" />
<line x1="331.90" y1="639.74" x2="338.50" y2="639.74" stroke="#44587e" stroke-width="1.3" />
<line x1="331.90" y1="593.69" x2="338.50" y2="593.69" stroke="#44587e" stroke-width="1.3" />
<polygon points="247.3,603.6 253.9,603.6 250.6,608.4" fill="#2d4b78" stroke="#2d4b78" stroke-width="1.2"/>
<polygon points="275.3,625.1 281.9,625.1 278.6,629.8" fill="#2d4b78" stroke="#2d4b78" stroke-width="1.2"/>
<polygon points="303.7,623.1 310.3,623.1 307.0,627.9" fill="#2d4b78" stroke="#2d4b78" stroke-width="1.2"/>
<polygon points="331.9,614.7 338.5,614.7 335.2,619.5" fill="#2d4b78" stroke="#2d4b78" stroke-width="1.2"/>
<line x1="240.40" y1="460.80" x2="256.40" y2="460.80" stroke="#64aa3c" stroke-width="1.5" />
<circle cx="248.4" cy="460.8" r="3.56" fill="none" stroke="#64aa3c" stroke-width="1.2"/>
<text x="260.0" y="463.8" font-size="8.6" text-anchor="start" font-weight="normal" font-style="normal" fill="#222" textLength="31.5" lengthAdjust="spacingAndGlyphs" class="l">No HMA</text>
<line x1="240.40" y1="470.60" x2="256.40" y2="470.60" stroke="#64aa3c" stroke-width="1.5" />
<circle cx="248.4" cy="470.6" r="3.56" fill="#64aa3c" stroke="#64aa3c" stroke-width="1.2"/>
<text x="260.0" y="473.6" font-size="8.6" text-anchor="start" font-weight="normal" font-style="normal" fill="#222" textLength="10.7" lengthAdjust="spacingAndGlyphs" class="l">NK</text>
<line x1="240.40" y1="480.70" x2="256.40" y2="480.70" stroke="#2d4b78" stroke-width="1.5" />
<polygon points="244.3,478.2 252.5,478.2 248.4,484.2" fill="none" stroke="#2d4b78" stroke-width="1.2"/>
<text x="260.0" y="483.7" font-size="8.6" text-anchor="start" font-weight="normal" font-style="normal" fill="#222" textLength="24" lengthAdjust="spacingAndGlyphs" class="l">A 1μM</text>
<line x1="240.40" y1="490.70" x2="256.40" y2="490.70" stroke="#2d4b78" stroke-width="1.5" />
<polygon points="244.3,488.2 252.5,488.2 248.4,494.2" fill="#2d4b78" stroke="#2d4b78" stroke-width="1.2"/>
<text x="260.0" y="493.7" font-size="8.6" text-anchor="start" font-weight="normal" font-style="normal" fill="#222" textLength="44.8" lengthAdjust="spacingAndGlyphs" class="l">A 1μM + NK</text>
<line x1="240.40" y1="501.10" x2="256.40" y2="501.10" stroke="#69a8e1" stroke-width="1.5" />
<polygon points="248.4,497.1 252.4,501.1 248.4,505.1 244.4,501.1" fill="none" stroke="#69a8e1" stroke-width="1.2"/>
<text x="260.0" y="504.1" font-size="8.6" text-anchor="start" font-weight="normal" font-style="normal" fill="#222" textLength="29.8" lengthAdjust="spacingAndGlyphs" class="l">A 0.1μM</text>
<line x1="240.40" y1="511.80" x2="256.40" y2="511.80" stroke="#69a8e1" stroke-width="1.5" />
<polygon points="248.4,507.8 252.4,511.8 248.4,515.8 244.4,511.8" fill="#69a8e1" stroke="#69a8e1" stroke-width="1.2"/>
<text x="260.0" y="514.8" font-size="8.6" text-anchor="start" font-weight="normal" font-style="normal" fill="#222" textLength="29.8" lengthAdjust="spacingAndGlyphs" class="l">A 0.1μM</text>
<text x="263" y="524.3" font-size="8.6" text-anchor="start" font-weight="normal" font-style="normal" fill="#222" textLength="18.1" lengthAdjust="spacingAndGlyphs" class="l">+ NK</text>
<line x1="369.50" y1="445.00" x2="369.50" y2="646.10" stroke="#1a1a1a" stroke-width="1.6" />
<line x1="368.70" y1="645.30" x2="482.30" y2="645.30" stroke="#1a1a1a" stroke-width="1.6" />
<line x1="366.30" y1="645.30" x2="369.50" y2="645.30" stroke="#1a1a1a" stroke-width="1.1" />
<text x="364.2" y="648.9" font-size="9.4" text-anchor="end" font-weight="normal" font-style="normal" fill="#222" textLength="4.55" lengthAdjust="spacingAndGlyphs" class="l">0</text>
<line x1="366.30" y1="605.60" x2="369.50" y2="605.60" stroke="#1a1a1a" stroke-width="1.1" />
<text x="364.2" y="609.1999999999999" font-size="9.4" text-anchor="end" font-weight="normal" font-style="normal" fill="#222" textLength="4.55" lengthAdjust="spacingAndGlyphs" class="l">1</text>
<line x1="366.30" y1="565.90" x2="369.50" y2="565.90" stroke="#1a1a1a" stroke-width="1.1" />
<text x="364.2" y="569.5" font-size="9.4" text-anchor="end" font-weight="normal" font-style="normal" fill="#222" textLength="4.55" lengthAdjust="spacingAndGlyphs" class="l">2</text>
<line x1="366.30" y1="526.20" x2="369.50" y2="526.20" stroke="#1a1a1a" stroke-width="1.1" />
<text x="364.2" y="529.8" font-size="9.4" text-anchor="end" font-weight="normal" font-style="normal" fill="#222" textLength="4.55" lengthAdjust="spacingAndGlyphs" class="l">3</text>
<line x1="366.30" y1="486.50" x2="369.50" y2="486.50" stroke="#1a1a1a" stroke-width="1.1" />
<text x="364.2" y="490.09999999999997" font-size="9.4" text-anchor="end" font-weight="normal" font-style="normal" fill="#222" textLength="4.55" lengthAdjust="spacingAndGlyphs" class="l">4</text>
<line x1="366.30" y1="446.80" x2="369.50" y2="446.80" stroke="#1a1a1a" stroke-width="1.1" />
<text x="364.2" y="450.4" font-size="9.4" text-anchor="end" font-weight="normal" font-style="normal" fill="#222" textLength="4.55" lengthAdjust="spacingAndGlyphs" class="l">5</text>
<line x1="383.20" y1="645.30" x2="383.20" y2="649.00" stroke="#1a1a1a" stroke-width="1.1" />
<text x="383.4" y="660" font-size="9.4" text-anchor="middle" font-weight="normal" font-style="normal" fill="#222" >Day 0</text>
<line x1="411.90" y1="645.30" x2="411.90" y2="649.00" stroke="#1a1a1a" stroke-width="1.1" />
<text x="412.09999999999997" y="660" font-size="9.4" text-anchor="middle" font-weight="normal" font-style="normal" fill="#222" >+1</text>
<line x1="440.10" y1="645.30" x2="440.10" y2="649.00" stroke="#1a1a1a" stroke-width="1.1" />
<text x="440.3" y="660" font-size="9.4" text-anchor="middle" font-weight="normal" font-style="normal" fill="#222" >+2</text>
<line x1="467.90" y1="645.30" x2="467.90" y2="649.00" stroke="#1a1a1a" stroke-width="1.1" />
<text x="468.09999999999997" y="660" font-size="9.4" text-anchor="middle" font-weight="normal" font-style="normal" fill="#222" >+3</text>
<polyline points="383.2,605.6 411.9,584.2 440.1,538.5 467.9,468.6" fill="none" stroke="#64aa3c" stroke-width="1.7"/>
<line x1="467.90" y1="477.77" x2="467.90" y2="460.69" stroke="#78a85a" stroke-width="1.3" />
<line x1="464.60" y1="477.77" x2="471.20" y2="477.77" stroke="#78a85a" stroke-width="1.3" />
<line x1="464.60" y1="460.69" x2="471.20" y2="460.69" stroke="#78a85a" stroke-width="1.3" />
<circle cx="383.2" cy="605.6" r="2.85" fill="#fff" stroke="#64aa3c" stroke-width="1.2"/>
<circle cx="411.9" cy="584.2" r="2.85" fill="#fff" stroke="#64aa3c" stroke-width="1.2"/>
<circle cx="440.1" cy="538.5" r="2.85" fill="#fff" stroke="#64aa3c" stroke-width="1.2"/>
<circle cx="467.9" cy="468.6" r="2.85" fill="#fff" stroke="#64aa3c" stroke-width="1.2"/>
<polyline points="383.2,605.6 411.9,606.0 440.1,593.7 467.9,565.9" fill="none" stroke="#64aa3c" stroke-width="1.7"/>
<line x1="440.10" y1="601.63" x2="440.10" y2="587.73" stroke="#78a85a" stroke-width="1.3" />
<line x1="436.80" y1="601.63" x2="443.40" y2="601.63" stroke="#78a85a" stroke-width="1.3" />
<line x1="436.80" y1="587.73" x2="443.40" y2="587.73" stroke="#78a85a" stroke-width="1.3" />
<line x1="467.90" y1="585.75" x2="467.90" y2="547.24" stroke="#78a85a" stroke-width="1.3" />
<line x1="464.60" y1="585.75" x2="471.20" y2="585.75" stroke="#78a85a" stroke-width="1.3" />
<line x1="464.60" y1="547.24" x2="471.20" y2="547.24" stroke="#78a85a" stroke-width="1.3" />
<circle cx="383.2" cy="605.6" r="2.85" fill="#64aa3c" stroke="#64aa3c" stroke-width="1.2"/>
<circle cx="411.9" cy="606.0" r="2.85" fill="#64aa3c" stroke="#64aa3c" stroke-width="1.2"/>
<circle cx="440.1" cy="593.7" r="2.85" fill="#64aa3c" stroke="#64aa3c" stroke-width="1.2"/>
<circle cx="467.9" cy="565.9" r="2.85" fill="#64aa3c" stroke="#64aa3c" stroke-width="1.2"/>
<polyline points="383.2,605.6 411.9,592.9 440.1,585.0 467.9,573.0" fill="none" stroke="#da8c14" stroke-width="1.7"/>
<line x1="411.90" y1="596.87" x2="411.90" y2="589.72" stroke="#d89a48" stroke-width="1.3" />
<line x1="408.60" y1="596.87" x2="415.20" y2="596.87" stroke="#d89a48" stroke-width="1.3" />
<line x1="408.60" y1="589.72" x2="415.20" y2="589.72" stroke="#d89a48" stroke-width="1.3" />
<line x1="440.10" y1="587.73" x2="440.10" y2="582.57" stroke="#d89a48" stroke-width="1.3" />
<line x1="436.80" y1="587.73" x2="443.40" y2="587.73" stroke="#d89a48" stroke-width="1.3" />
<line x1="436.80" y1="582.57" x2="443.40" y2="582.57" stroke="#d89a48" stroke-width="1.3" />
<line x1="467.90" y1="579.79" x2="467.90" y2="567.88" stroke="#d89a48" stroke-width="1.3" />
<line x1="464.60" y1="579.79" x2="471.20" y2="579.79" stroke="#d89a48" stroke-width="1.3" />
<line x1="464.60" y1="567.88" x2="471.20" y2="567.88" stroke="#d89a48" stroke-width="1.3" />
<polygon points="379.9,603.6 386.5,603.6 383.2,608.4" fill="#fff" stroke="#da8c14" stroke-width="1.2"/>
<polygon points="408.6,590.9 415.2,590.9 411.9,595.7" fill="#fff" stroke="#da8c14" stroke-width="1.2"/>
<polygon points="436.8,583.0 443.4,583.0 440.1,587.8" fill="#fff" stroke="#da8c14" stroke-width="1.2"/>
<polygon points="464.6,571.1 471.2,571.1 467.9,575.9" fill="#fff" stroke="#da8c14" stroke-width="1.2"/>
<polyline points="383.2,605.6 411.9,621.5 440.1,626.2 467.9,624.7" fill="none" stroke="#da8c14" stroke-width="1.7"/>
<line x1="440.10" y1="633.39" x2="440.10" y2="618.30" stroke="#d89a48" stroke-width="1.3" />
<line x1="436.80" y1="633.39" x2="443.40" y2="633.39" stroke="#d89a48" stroke-width="1.3" />
<line x1="436.80" y1="618.30" x2="443.40" y2="618.30" stroke="#d89a48" stroke-width="1.3" />
<line x1="467.90" y1="634.18" x2="467.90" y2="613.54" stroke="#d89a48" stroke-width="1.3" />
<line x1="464.60" y1="634.18" x2="471.20" y2="634.18" stroke="#d89a48" stroke-width="1.3" />
<line x1="464.60" y1="613.54" x2="471.20" y2="613.54" stroke="#d89a48" stroke-width="1.3" />
<polygon points="379.9,603.6 386.5,603.6 383.2,608.4" fill="#da8c14" stroke="#da8c14" stroke-width="1.2"/>
<polygon points="408.6,619.5 415.2,619.5 411.9,624.3" fill="#da8c14" stroke="#da8c14" stroke-width="1.2"/>
<polygon points="436.8,624.3 443.4,624.3 440.1,629.0" fill="#da8c14" stroke="#da8c14" stroke-width="1.2"/>
<polygon points="464.6,622.7 471.2,622.7 467.9,627.5" fill="#da8c14" stroke="#da8c14" stroke-width="1.2"/>
<polyline points="383.2,605.6 411.9,590.5 440.1,553.6 467.9,489.7" fill="none" stroke="#e8bc19" stroke-width="1.7"/>
<line x1="440.10" y1="557.96" x2="440.10" y2="549.23" stroke="#e0c048" stroke-width="1.3" />
<line x1="436.80" y1="557.96" x2="443.40" y2="557.96" stroke="#e0c048" stroke-width="1.3" />
<line x1="436.80" y1="549.23" x2="443.40" y2="549.23" stroke="#e0c048" stroke-width="1.3" />
<line x1="467.90" y1="498.41" x2="467.90" y2="480.54" stroke="#e0c048" stroke-width="1.3" />
<line x1="464.60" y1="498.41" x2="471.20" y2="498.41" stroke="#e0c048" stroke-width="1.3" />
<line x1="464.60" y1="480.54" x2="471.20" y2="480.54" stroke="#e0c048" stroke-width="1.3" />
<polygon points="383.2,602.4 386.4,605.6 383.2,608.8 380.0,605.6" fill="#fff" stroke="#e8bc19" stroke-width="1.2"/>
<polygon points="411.9,587.3 415.1,590.5 411.9,593.7 408.7,590.5" fill="#fff" stroke="#e8bc19" stroke-width="1.2"/>
<polygon points="440.1,550.4 443.3,553.6 440.1,556.8 436.9,553.6" fill="#fff" stroke="#e8bc19" stroke-width="1.2"/>
<polygon points="467.9,486.5 471.1,489.7 467.9,492.9 464.7,489.7" fill="#fff" stroke="#e8bc19" stroke-width="1.2"/>
<polyline points="383.2,605.6 411.9,614.3 440.1,607.6 467.9,594.5" fill="none" stroke="#e8bc19" stroke-width="1.7"/>
<line x1="440.10" y1="613.54" x2="440.10" y2="601.63" stroke="#e0c048" stroke-width="1.3" />
<line x1="436.80" y1="613.54" x2="443.40" y2="613.54" stroke="#e0c048" stroke-width="1.3" />
<line x1="436.80" y1="601.63" x2="443.40" y2="601.63" stroke="#e0c048" stroke-width="1.3" />
<line x1="467.90" y1="603.62" x2="467.90" y2="581.78" stroke="#e0c048" stroke-width="1.3" />
<line x1="464.60" y1="603.62" x2="471.20" y2="603.62" stroke="#e0c048" stroke-width="1.3" />
<line x1="464.60" y1="581.78" x2="471.20" y2="581.78" stroke="#e0c048" stroke-width="1.3" />
<polygon points="383.2,602.4 386.4,605.6 383.2,608.8 380.0,605.6" fill="#e8bc19" stroke="#e8bc19" stroke-width="1.2"/>
<polygon points="411.9,611.1 415.1,614.3 411.9,617.5 408.7,614.3" fill="#e8bc19" stroke="#e8bc19" stroke-width="1.2"/>
<polygon points="440.1,604.4 443.3,607.6 440.1,610.8 436.9,607.6" fill="#e8bc19" stroke="#e8bc19" stroke-width="1.2"/>
<polygon points="467.9,591.3 471.1,594.5 467.9,597.7 464.7,594.5" fill="#e8bc19" stroke="#e8bc19" stroke-width="1.2"/>
<line x1="374.60" y1="450.40" x2="390.60" y2="450.40" stroke="#64aa3c" stroke-width="1.5" />
<circle cx="382.6" cy="450.4" r="3.56" fill="none" stroke="#64aa3c" stroke-width="1.2"/>
<text x="394.20000000000005" y="453.4" font-size="8.6" text-anchor="start" font-weight="normal" font-style="normal" fill="#222" textLength="30.8" lengthAdjust="spacingAndGlyphs" class="l">No HMA</text>
<line x1="374.60" y1="459.90" x2="390.60" y2="459.90" stroke="#64aa3c" stroke-width="1.5" />
<circle cx="382.6" cy="459.9" r="3.56" fill="#64aa3c" stroke="#64aa3c" stroke-width="1.2"/>
<text x="394.20000000000005" y="462.9" font-size="8.6" text-anchor="start" font-weight="normal" font-style="normal" fill="#222" textLength="10.4" lengthAdjust="spacingAndGlyphs" class="l">NK</text>
<line x1="374.60" y1="469.80" x2="390.60" y2="469.80" stroke="#da8c14" stroke-width="1.5" />
<polygon points="378.5,467.3 386.7,467.3 382.6,473.3" fill="none" stroke="#da8c14" stroke-width="1.2"/>
<text x="394.20000000000005" y="472.8" font-size="8.6" text-anchor="start" font-weight="normal" font-style="normal" fill="#222" textLength="34.6" lengthAdjust="spacingAndGlyphs" class="l">D 0.01μM</text>
<line x1="374.60" y1="479.90" x2="390.60" y2="479.90" stroke="#da8c14" stroke-width="1.5" />
<polygon points="378.5,477.4 386.7,477.4 382.6,483.4" fill="#da8c14" stroke="#da8c14" stroke-width="1.2"/>
<text x="394.20000000000005" y="482.9" font-size="8.6" text-anchor="start" font-weight="normal" font-style="normal" fill="#222" textLength="56.2" lengthAdjust="spacingAndGlyphs" class="l">D 0.01μM + NK</text>
<line x1="374.60" y1="489.90" x2="390.60" y2="489.90" stroke="#e8bc19" stroke-width="1.5" />
<polygon points="382.6,485.9 386.6,489.9 382.6,493.9 378.6,489.9" fill="none" stroke="#e8bc19" stroke-width="1.2"/>
<text x="394.20000000000005" y="492.9" font-size="8.6" text-anchor="start" font-weight="normal" font-style="normal" fill="#222" textLength="38.9" lengthAdjust="spacingAndGlyphs" class="l">D 0.001μM</text>
<line x1="374.60" y1="500.80" x2="390.60" y2="500.80" stroke="#e8bc19" stroke-width="1.5" />
<polygon points="382.6,496.8 386.6,500.8 382.6,504.8 378.6,500.8" fill="#e8bc19" stroke="#e8bc19" stroke-width="1.2"/>
<text x="394.20000000000005" y="503.8" font-size="8.6" text-anchor="start" font-weight="normal" font-style="normal" fill="#222" textLength="38.9" lengthAdjust="spacingAndGlyphs" class="l">D 0.001μM</text>
<text x="397.7" y="513.8" font-size="8.6" text-anchor="start" font-weight="normal" font-style="normal" fill="#222" textLength="17.3" lengthAdjust="spacingAndGlyphs" class="l">+ NK</text>
</svg></body></html>
